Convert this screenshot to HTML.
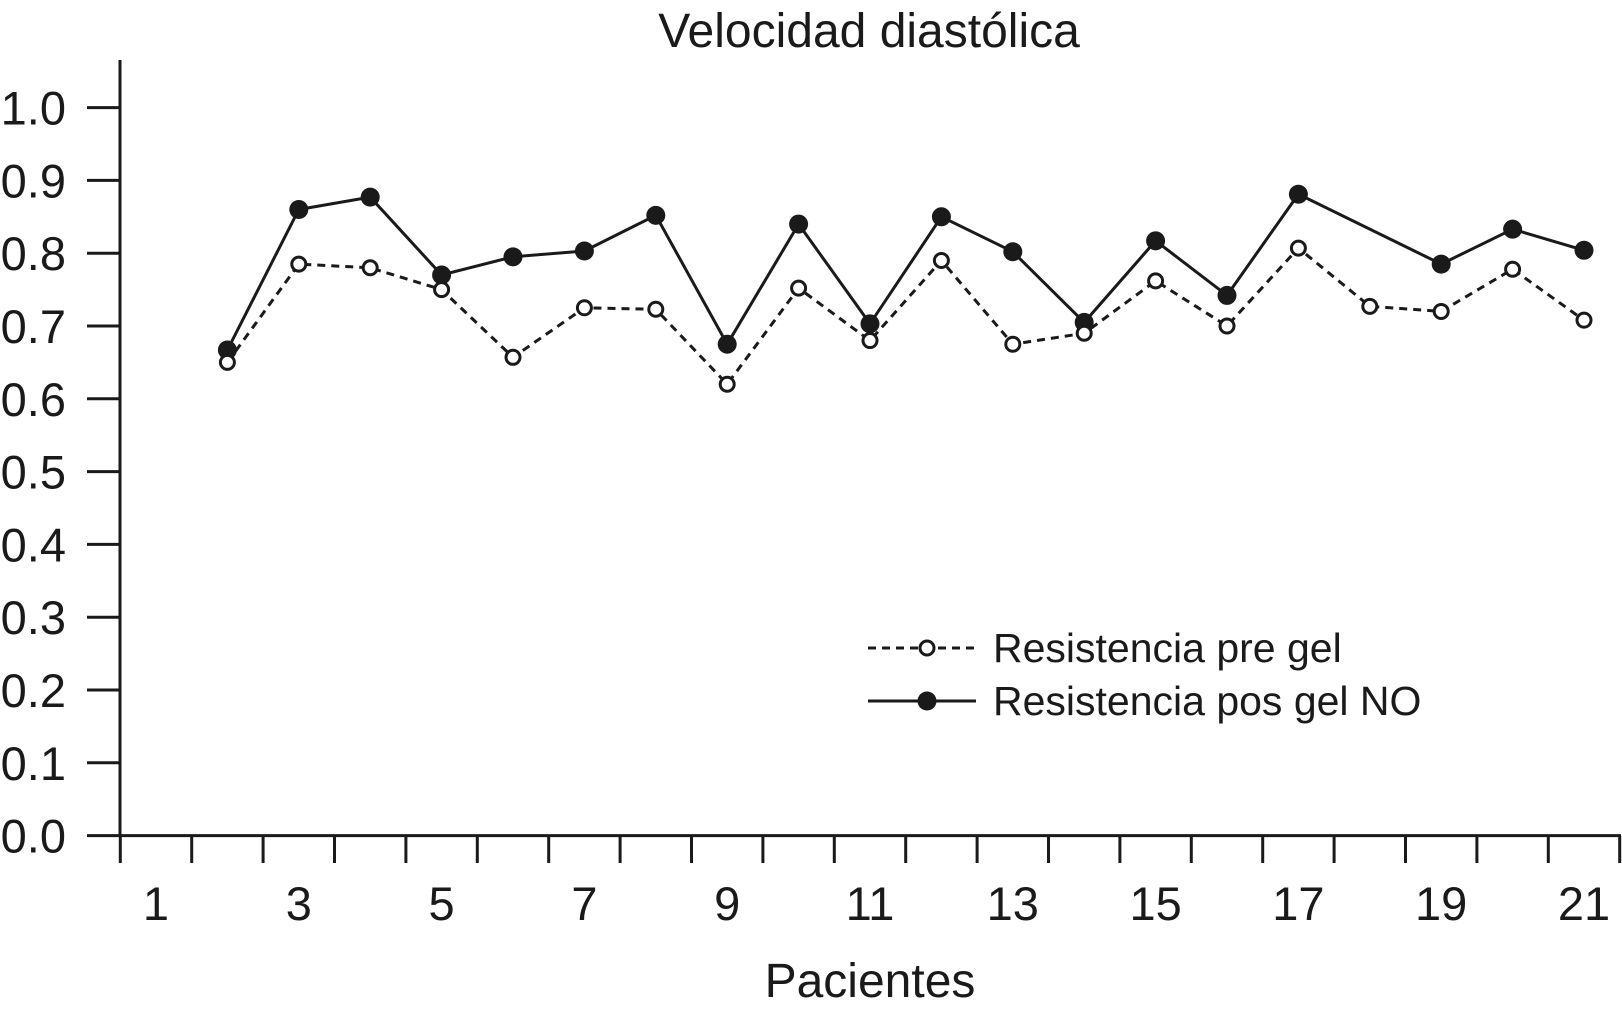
<!DOCTYPE html>
<html><head><meta charset="utf-8"><style>
html,body{margin:0;padding:0;background:#fff;}
svg{display:block;font-family:"Liberation Sans",Arial,sans-serif;}
</style></head><body>
<svg id="chart" width="1622" height="1014" viewBox="0 0 1622 1014">
<text x="869" y="47" font-size="48" text-anchor="middle" fill="#1a1a1a">Velocidad diastólica</text>
<g id="axes"></g>
<g id="series"></g>
<text x="870" y="997" font-size="48" text-anchor="middle" fill="#1a1a1a">Pacientes</text>
<g>
 <g>
  <line x1="868" y1="648" x2="976" y2="648" stroke="#1a1a1a" stroke-width="3" stroke-dasharray="8,6"/>
  <circle cx="927" cy="648" r="7" fill="#fff" stroke="#1a1a1a" stroke-width="3"/>
  <text x="993" y="662" font-size="41" fill="#1a1a1a">Resistencia pre gel</text>
 </g>
 <g>
  <line x1="868" y1="701" x2="976" y2="701" stroke="#1a1a1a" stroke-width="3"/>
  <circle cx="927" cy="701" r="9.5" fill="#1a1a1a"/>
  <text x="993" y="715" font-size="41" fill="#1a1a1a">Resistencia pos gel NO</text>
 </g>
</g>
</svg>
<script>
const patients = [2,3,4,5,6,7,8,9,10,11,12,13,14,15,16,17,18,19,20,21];
const preGel = [0.65,0.785,0.78,0.75,0.657,0.725,0.723,0.62,0.752,0.68,0.79,0.675,0.69,0.762,0.70,0.807,0.727,0.72,0.778,0.708];
const posGel = [0.667,0.86,0.877,0.77,0.795,0.803,0.852,0.675,0.84,0.703,0.85,0.802,0.705,0.817,0.742,0.881,null,0.785,0.833,0.804];
const yTicks = [0,0.1,0.2,0.3,0.4,0.5,0.6,0.7,0.8,0.9,1.0];
const xLabels = [1,3,5,7,9,11,13,15,17,19,21];

const NS="http://www.w3.org/2000/svg";
const X0=120.3, STEP=71.4, Y0=835.6, YSCALE=728;
function xPos(p){return X0+STEP*(p-0.5);}
function yPos(v){return Y0-v*YSCALE;}
function mk(tag,attrs,parent){const e=document.createElementNS(NS,tag);for(const k in attrs)e.setAttribute(k,attrs[k]);parent.appendChild(e);return e;}
const axes=document.getElementById('axes');
const ser=document.getElementById('series');
let ya=mk('line',{x1:120,y1:60,x2:120,y2:Y0,stroke:'#1a1a1a','stroke-width':3},axes);


let xa=mk('line',{x1:118.5,y1:Y0,x2:1621,y2:Y0,stroke:'#1a1a1a','stroke-width':3},axes);


yTicks.forEach(v=>{
  const y=yPos(v);
  const t=mk('line',{x1:87,y1:y,x2:120,y2:y,stroke:'#1a1a1a','stroke-width':3},axes);
  
  
  const l=mk('text',{x:66,y:y+17,'font-size':47,'text-anchor':'end',fill:'#1a1a1a'},axes);
  l.textContent=v.toFixed(1);
  
  
});
for(let i=0;i<=21;i++){
  const x=X0+STEP*i;
  const t=mk('line',{x1:x,y1:Y0,x2:x,y2:863,stroke:'#1a1a1a','stroke-width':3},axes);
  
  
}
xLabels.forEach(p=>{
  const l=mk('text',{x:xPos(p),y:920,'font-size':47,'text-anchor':'middle',fill:'#1a1a1a'},axes);
  l.textContent=p;
  
  
});
function pathFor(vals){
  let d='';
  vals.forEach((v,i)=>{if(v==null)return;d+=(d?'L':'M')+xPos(patients[i]).toFixed(1)+','+yPos(v).toFixed(1);});
  return d;
}
const prePath=mk('path',{d:pathFor(preGel),fill:'none',stroke:'#1a1a1a','stroke-width':3,'stroke-dasharray':'8,6'},ser);


const posPath=mk('path',{d:pathFor(posGel),fill:'none',stroke:'#1a1a1a','stroke-width':3},ser);


posGel.forEach((v,i)=>{
  if(v==null)return;
  const c=mk('circle',{cx:xPos(patients[i]),cy:yPos(v),r:9.5,fill:'#1a1a1a'},ser);
  
  
});
preGel.forEach((v,i)=>{
  const c=mk('circle',{cx:xPos(patients[i]),cy:yPos(v),r:7,fill:'#fff',stroke:'#1a1a1a','stroke-width':3},ser);
  
  
});
</script>
</body></html>
